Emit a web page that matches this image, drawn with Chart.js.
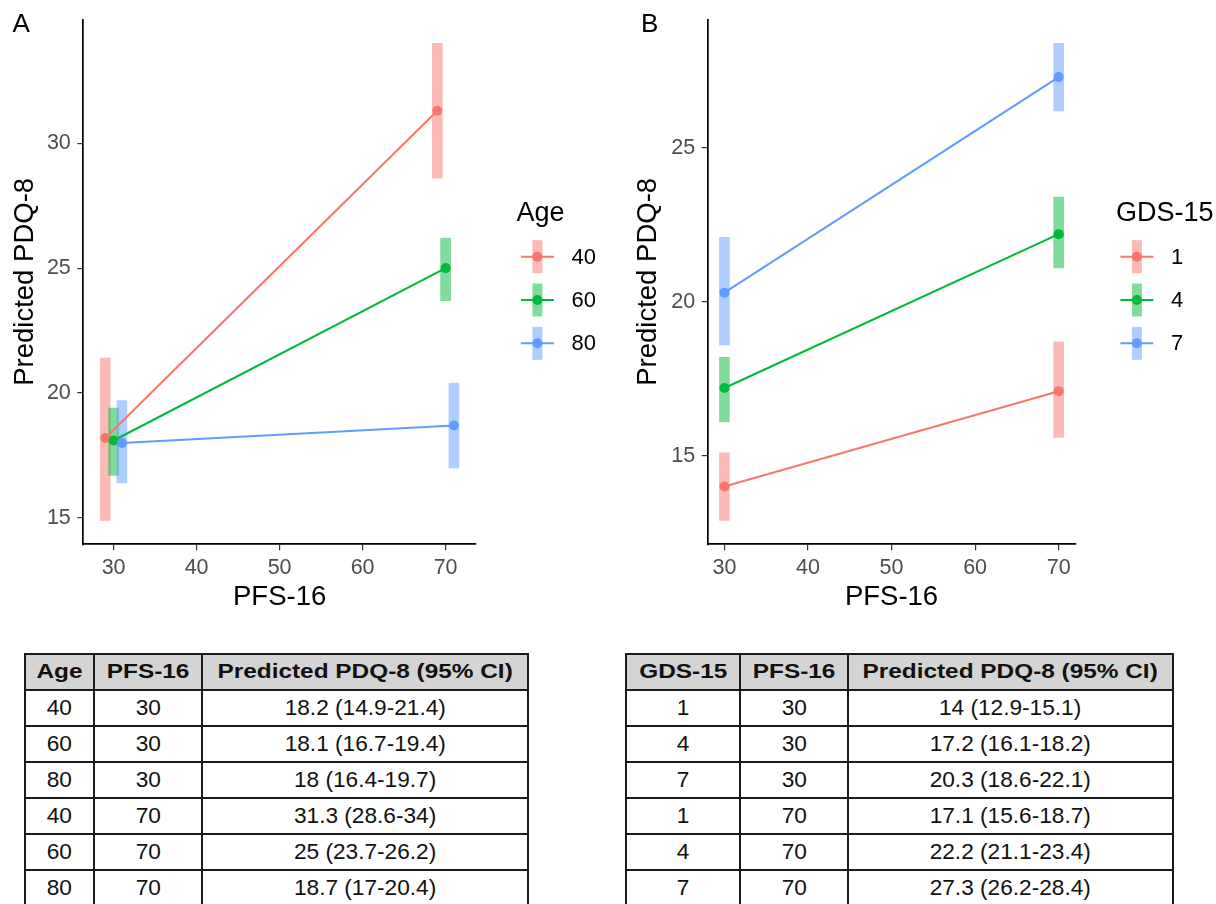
<!DOCTYPE html>
<html lang="en">
<head>
<meta charset="UTF-8">
<title>Predicted PDQ-8 by PFS-16</title>
<script src="https://cdn.jsdelivr.net/npm/chart.js"></script>
<style>
  html, body { margin: 0; padding: 0; background: #fff; }
  body { width: 1216px; height: 904px; position: relative; overflow: hidden;
         font-family: "Liberation Sans", Arial, sans-serif; }
  .panel { position: absolute; top: 0; width: 608px; height: 640px; }
  .tag { position: absolute; font-size: 26px; line-height: 26px; color: #000; }
  table { position: absolute; border-collapse: collapse; table-layout: fixed; color: #111; }
  tr { height: 36px; }
  th, td { border: 2.5px solid #1a1a1a; padding: 0; text-align: center; line-height: 1; }
  th { background: #d4d4d4; font-weight: bold; font-size: 19.5px; }
  td { font-size: 22px; }
  th span { display: inline-block; transform: scaleX(1.25); }
  td span { display: inline-block; transform: scaleX(1.03); }
</style>
</head>
<body>
<div class="panel" style="left:0"><canvas id="chartA" width="608" height="640"></canvas></div>
<div class="panel" style="left:608px"><canvas id="chartB" width="608" height="640"></canvas></div>
<div class="tag" style="left:12.5px; top:9.5px">A</div>
<div class="tag" style="left:641px; top:9.5px">B</div>
<table id="tableA" style="left:24px; top:653px; width:503px"></table>
<table id="tableB" style="left:625px; top:653px; width:547px"></table>

<script>
// x levels (PFS-16) and axis ticks
const pfsLevels = [30, 70];
const pfsTicks = [30, 40, 50, 60, 70];

// panel A: by age
const ageGroups = ['40', '60', '80'];
const ageDodge = [-1, 0, 1];
const ageFit  = [[18.2, 31.3], [18.1, 25], [18, 18.7]];
const ageLow  = [[14.9, 28.6], [16.7, 23.7], [16.4, 17]];
const ageHigh = [[21.4, 34], [19.4, 26.2], [19.7, 20.4]];
const ageTicks = [15, 20, 25, 30];

// panel B: by GDS-15
const gdsGroups = ['1', '4', '7'];
const gdsDodge = [0, 0, 0];
const gdsFit  = [[14, 17.1], [17.2, 22.2], [20.3, 27.3]];
const gdsLow  = [[12.9, 15.6], [16.1, 21.1], [18.6, 26.2]];
const gdsHigh = [[15.1, 18.7], [18.2, 23.4], [22.1, 28.4]];
const gdsTicks = [15, 20, 25];

const groupColors = ['#F8766D', '#00BA38', '#619CFF'];
const barColors = ['rgba(248,118,109,0.5)', 'rgba(0,186,56,0.5)', 'rgba(97,156,255,0.5)'];

const FONT = '"Liberation Sans", Arial, sans-serif';
Chart.defaults.font.family = FONT;

// legend drawn next to the plot, ggplot style keys (bar + line + point)
const keyLegend = {
    id: 'keyLegend',
    afterDraw(chart, args, opts) {
        const ctx = chart.ctx;
        const x0 = chart.chartArea.right;
        ctx.save();
        ctx.fillStyle = '#000';
        ctx.font = '27px ' + FONT;
        ctx.textBaseline = 'alphabetic';
        ctx.textAlign = 'left';
        ctx.fillText(opts.title, x0 + 40.5, 221);
        opts.labels.forEach((lab, i) => {
            const cy = 256.7 + i * 43.3;
            const cx = x0 + 61.5;
            ctx.fillStyle = barColors[i];
            ctx.fillRect(cx - 5, cy - 16.5, 10, 33);
            ctx.strokeStyle = groupColors[i];
            ctx.lineWidth = 2.1;
            ctx.beginPath();
            ctx.moveTo(cx - 16.5, cy);
            ctx.lineTo(cx + 16.5, cy);
            ctx.stroke();
            ctx.fillStyle = groupColors[i];
            ctx.beginPath();
            ctx.arc(cx, cy, 5, 0, Math.PI * 2);
            ctx.fill();
            ctx.fillStyle = '#000';
            ctx.font = '22px ' + FONT;
            ctx.textBaseline = 'middle';
            ctx.fillText(lab, x0 + 95.5, cy + 1);
        });
        ctx.restore();
    }
};

function expand(lo, hi) {
    const pad = (hi - lo) * 0.05;
    return [lo - pad, hi + pad];
}

function makePanel(id, cfg) {
    const datasets = [];
    cfg.groups.forEach((g, i) => {
        datasets.push({
            type: 'bar',
            label: g + ' CI',
            data: pfsLevels.map((x, j) => ({ x: x + cfg.dodge[i], y: [cfg.low[i][j], cfg.high[i][j]] })),
            backgroundColor: barColors[i],
            borderWidth: 0,
            barThickness: 10,
            grouped: false,
            order: 6 - i
        });
    });
    cfg.groups.forEach((g, i) => {
        datasets.push({
            type: 'line',
            label: g,
            data: pfsLevels.map((x, j) => ({ x: x + cfg.dodge[i], y: cfg.fit[i][j] })),
            borderColor: groupColors[i],
            backgroundColor: groupColors[i],
            borderWidth: 2.1,
            pointRadius: 5,
            pointBorderWidth: 0,
            pointBackgroundColor: groupColors[i],
            tension: 0,
            order: 3 - i
        });
    });

    const allLow = cfg.low.flat(), allHigh = cfg.high.flat();
    const [yMin, yMax] = expand(Math.min(...allLow), Math.max(...allHigh));

    return new Chart(document.getElementById(id), {
        type: 'line',
        data: { datasets },
        options: {
            responsive: false,
            devicePixelRatio: 1,
            animation: false,
            layout: { padding: { top: 15.7, left: 0, right: cfg.padRight, bottom: 0 } },
            plugins: {
                legend: { display: false },
                tooltip: { enabled: false },
                keyLegend: { title: cfg.legendTitle, labels: cfg.groups }
            },
            scales: {
                x: {
                    type: 'linear',
                    min: cfg.xRange[0],
                    max: cfg.xRange[1],
                    offset: false,
                    afterBuildTicks: axis => { axis.ticks = pfsTicks.map(v => ({ value: v })); },
                    afterFit: axis => { axis.height = 95.7; },
                    grid: { display: true, drawOnChartArea: false, offset: false, tickLength: 6, color: '#333', lineWidth: 1.2 },
                    border: { display: true, color: '#000', width: 1.7 },
                    ticks: { color: '#4D4D4D', font: { size: 21.5 }, padding: 5, maxRotation: 0, autoSkip: false },
                    title: { display: true, text: 'PFS-16', color: '#000', font: { size: 27.5 }, padding: { top: 0, bottom: 26.5 } }
                },
                y: {
                    type: 'linear',
                    min: yMin,
                    max: yMax,
                    afterBuildTicks: axis => { axis.ticks = cfg.yTicks.map(v => ({ value: v })); },
                    afterFit: axis => { axis.width = cfg.yAxisWidth; },
                    grid: { display: true, drawOnChartArea: false, tickLength: 6, color: '#333', lineWidth: 1.2 },
                    border: { display: true, color: '#000', width: 1.7 },
                    ticks: { color: '#4D4D4D', font: { size: 21.5 }, padding: 6.5 },
                    title: { display: true, text: 'Predicted PDQ-8', color: '#000', font: { size: 27.5 }, padding: { top: cfg.titlePad, bottom: 0 } }
                }
            }
        },
        plugins: [keyLegend]
    });
}

makePanel('chartA', {
    groups: ageGroups, dodge: ageDodge, fit: ageFit, low: ageLow, high: ageHigh,
    yTicks: ageTicks, xRange: [26.35, 73.65], yAxisWidth: 83.3, padRight: 132.1,
    titlePad: 8.5, legendTitle: 'Age'
});

makePanel('chartB', {
    groups: gdsGroups, dodge: gdsDodge, fit: gdsFit, low: gdsLow, high: gdsHigh,
    yTicks: gdsTicks, xRange: [28, 72], yAxisWidth: 99.7, padRight: 140.6,
    titlePad: 24.2, legendTitle: 'GDS-15'
});

// tables under each panel
function fillTable(id, head, groups, fit, low, high) {
    const table = document.getElementById(id);
    const colWidths = id === 'tableA' ? [69, 108, 326] : [114, 108, 325];
    let html = '<colgroup>' + colWidths.map(w => '<col style="width:' + w + 'px">').join('') + '</colgroup>';
    html += '<tr>' + head.map(h => '<th><span>' + h + '</span></th>').join('') + '</tr>';
    pfsLevels.forEach((pfs, j) => {
        groups.forEach((g, i) => {
            const cells = [g, pfs, fit[i][j] + ' (' + low[i][j] + '-' + high[i][j] + ')'];
            html += '<tr>' + cells.map(c => '<td><span>' + c + '</span></td>').join('') + '</tr>';
        });
    });
    table.innerHTML = html;
}

fillTable('tableA', ['Age', 'PFS-16', 'Predicted PDQ-8 (95% CI)'], ageGroups, ageFit, ageLow, ageHigh);
fillTable('tableB', ['GDS-15', 'PFS-16', 'Predicted PDQ-8 (95% CI)'], gdsGroups, gdsFit, gdsLow, gdsHigh);
</script>
</body>
</html>
